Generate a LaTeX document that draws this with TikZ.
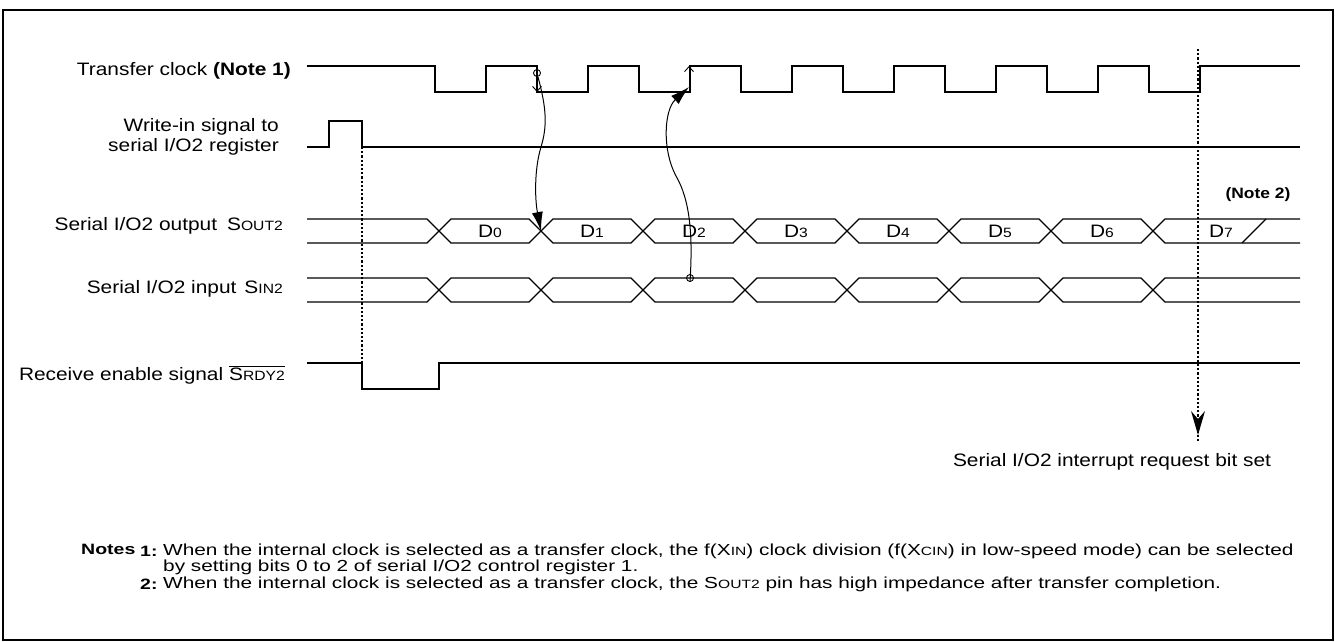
\documentclass[tikz,border=0pt]{standalone}
\usepackage{fontspec}
\setmainfont{Liberation Sans}[FakeStretch=1.16]
\newfontfamily\notefont{Liberation Sans}[FakeStretch=1.3]
\usetikzlibrary{arrows.meta}
\newcommand\lowc[1]{{\fontsize{13.5}{13.5}\selectfont #1}}
\newcommand\lown[1]{{\fontsize{12}{12}\selectfont #1}}
\begin{document}
\begin{tikzpicture}[x=1pt,y=-1pt,
  wave/.style={line width=1.2pt,line join=miter},
  lbl/.style={font=\fontsize{18}{20}\selectfont,inner sep=0pt},
  note/.style={font=\notefont\fontsize{16}{17}\selectfont,inner sep=0pt,anchor=west},
  notebold/.style={note,font=\notefont\bfseries\fontsize{15}{17}\selectfont},
  dots/.style={line width=1.1pt,dash pattern=on 2.2pt off 2pt},
  cause/.style={line width=1pt,-{Latex[length=19pt,width=11pt]}},
  edgetip/.style={line width=0.9pt,-{Straight Barb[length=5pt,width=9pt]}}]
\useasboundingbox (0,0) rectangle (1335,642);
\draw[line width=2.6pt] (3,10) rectangle (1333,640);

% labels
\node[lbl,anchor=east] (lclk) at (291,71) {Transfer clock \textbf{(Note 1)}};
\node[lbl,anchor=east,align=right] (lwr) at (279,137) {Write-in signal to\\serial I/O2 register};
\node[lbl,anchor=east] (lout) at (283,226) {Serial I/O2 output\hspace{10pt}S\lowc{OUT2}};
\node[lbl,anchor=east] (lin) at (283,289) {Serial I/O2 input\hspace{8pt}S\lowc{IN2}};
\node[lbl,anchor=east] (lrdy) at (285,375) {Receive enable signal $\overline{\hbox{S\lowc{RDY2}}}$};

% transfer clock
\draw[wave] (307,66) foreach \k in {0,...,7} {
  -- ({435+102*\k},66) -- ({435+102*\k},92) -- ({486+102*\k},92) -- ({486+102*\k},66) } -- (1300,66);
\coordinate (fall1) at (537,73);
\coordinate (fall1b) at (537,92);
\coordinate (rise2) at (689,66);
\coordinate (rise2b) at (689,82);

% write-in signal
\draw[wave] (307,147) -- (329,147) -- (329,121) -- (362,121) -- (362,147) -- (1300,147);
\coordinate (wrfall) at (362,147);

% receive enable
\draw[wave] (307,363) -- (362,363) -- (362,389) -- (439,389) -- (439,363) -- (1300,363);
\coordinate (rdyfall) at (362,363);
\draw[dots] (wrfall) -- (rdyfall);

% SOUT2 bus
\draw[wave] (307,219) -- (427,219) -- (439,231) -- (427,243) -- (307,243);
\foreach \k in {0,...,6} {
  \draw[wave] ({439+102*\k},231) -- ({451+102*\k},219) -- ({529+102*\k},219) -- ({541+102*\k},231)
     -- ({529+102*\k},243) -- ({451+102*\k},243) -- cycle;
  \node[lbl] (d\k) at ({490+102*\k},231) {D\lowc{\k}};
}
\draw[wave] (1300,219) -- (1165,219) -- (1153,231) -- (1165,243) -- (1300,243);
\node[lbl] (d7) at (1221,231) {D\lowc{7}};
\draw[wave] (1242,243) -- (1266,219);
\node[lbl,font=\bfseries\fontsize{15}{18}\selectfont] (n2) at (1258,195) {(Note 2)};

% SIN2 bus
\draw[wave] (307,278) -- (427,278) -- (439,290) -- (427,302) -- (307,302);
\foreach \k in {0,...,6} {
  \draw[wave] ({439+102*\k},290) -- ({451+102*\k},278) -- ({529+102*\k},278) -- ({541+102*\k},290)
     -- ({529+102*\k},302) -- ({451+102*\k},302) -- cycle;
}
\draw[wave] (1300,278) -- (1165,278) -- (1153,290) -- (1165,302) -- (1300,302);
\coordinate (sin2) at (690,278);
\coordinate (cross01) at (541,231);

% causal arrows
\draw[line width=0.9pt] (fall1) circle (3.5pt);
\draw[edgetip] ([yshift=3.5pt]fall1) -- (fall1b);
\draw[cause] (538,77) .. controls (547,110) and (547,127) .. (541,147)
   .. controls (534,170) and (535,200) .. (cross01);
\draw[line width=0.9pt] (sin2) circle (3.5pt);
\draw[edgetip] (rise2b) -- (rise2);
\draw[cause] ([yshift=-3.5pt]sin2) .. controls (693,235) and (690,200) .. (676,176)
   .. controls (662,150) and (664,110) .. (689,87);

% interrupt marker
\coordinate (irqtop) at (1198,49);
\coordinate (irqtip) at (1198,435);
\draw[dots] (irqtop) -- (irqtip);
\draw[dots] (irqtip) -- (1198,441);
\fill (irqtip) -- (1191,411) -- (1198,419) -- (1205,411) -- cycle;
\node[lbl] (irq) at (1112,462) {Serial I/O2 interrupt request bit set};

% notes
\node[notebold] (notes) at (81,549) {Notes};
\node[notebold] (n1) at (140,551) {1:};
\node[note] (t1) at (163,551) {When the internal clock is selected as a transfer clock, the f(X\lown{IN}) clock division (f(X\lown{CIN}) in low-speed mode) can be selected};
\node[note] (t1b) at (163,567) {by setting bits 0 to 2 of serial I/O2 control register 1.};
\node[notebold] (n2b) at (140,584) {2:};
\node[note] (t2) at (163,584) {When the internal clock is selected as a transfer clock, the S\lown{OUT2} pin has high impedance after transfer completion.};
\end{tikzpicture}
\end{document}
